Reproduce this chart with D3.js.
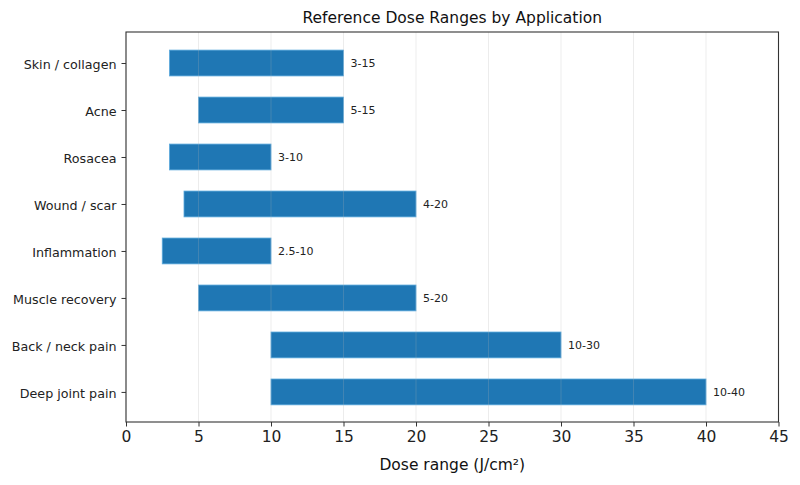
<!DOCTYPE html>
<html>
<head>
<meta charset="utf-8">
<script src="https://cdn.jsdelivr.net/npm/d3@7"></script>
<style>
  body { margin: 0; background: #fff; }
  svg, svg text { font-family: "DejaVu Sans", sans-serif; }
</style>
</head>
<body>
<div id="okvir"></div>
<script>
// podaci
const applications = ["Skin / collagen", "Acne", "Rosacea", "Wound / scar", "Inflammation", "Muscle recovery", "Back / neck pain", "Deep joint pain"];
const doseLow = [3, 5, 3, 4, 2.5, 5, 10, 10];
const doseHigh = [15, 15, 10, 20, 10, 20, 30, 40];
const rangeLabels = ["3-15", "5-15", "3-10", "4-20", "2.5-10", "5-20", "10-30", "10-40"];
const xTicks = [0, 5, 10, 15, 20, 25, 30, 35, 40, 45];

const data = applications.map((a, i) => ({ app: a, low: doseLow[i], high: doseHigh[i], label: rangeLabels[i], i: i }));

var width = 800, height = 485;
var margin = { top: 32, right: 21.5, bottom: 63, left: 126 };

var svg = d3.select("#okvir").append("svg")
    .attr("width", width)
    .attr("height", height);

var x = d3.scaleLinear()
    .domain([0, 45])
    .range([margin.left, width - margin.right]);

var y = d3.scaleLinear()
    .domain([-0.66, applications.length - 1 + 0.64])
    .range([margin.top, height - margin.bottom]);

var barH = (y(1) - y(0)) * 0.55;

// stupci
svg.append("g")
    .selectAll("rect")
    .data(data)
    .enter()
    .append("rect")
    .attr("x", d => x(d.low))
    .attr("y", d => y(d.i) - barH / 2)
    .attr("width", d => x(d.high) - x(d.low))
    .attr("height", barH)
    .attr("fill", "#1f77b4")
    .attr("stroke", "#5aa9dc")
    .attr("stroke-width", 0.8);

// mreza
svg.append("g")
    .selectAll("line")
    .data(xTicks)
    .enter()
    .append("line")
    .attr("x1", d => x(d)).attr("x2", d => x(d))
    .attr("y1", margin.top).attr("y2", height - margin.bottom)
    .attr("stroke", "#b0b0b0")
    .attr("stroke-opacity", 0.3)
    .attr("stroke-width", 0.8);

// oznake raspona
svg.append("g")
    .selectAll("text")
    .data(data)
    .enter()
    .append("text")
    .attr("x", d => x(d.high) + 7)
    .attr("y", d => y(d.i))
    .attr("dy", "0.35em")
    .style("font-size", "11px")
    .attr("fill", "#222")
    .text(d => d.label);

// okvir
svg.append("rect")
    .attr("x", margin.left).attr("y", margin.top)
    .attr("width", x(45) - x(0))
    .attr("height", height - margin.bottom - margin.top)
    .attr("fill", "none")
    .attr("stroke", "#333")
    .attr("stroke-width", 1.1);

// x os
var xAxis = svg.append("g")
    .attr("transform", "translate(0," + (height - margin.bottom) + ")")
    .call(d3.axisBottom(x).tickValues(xTicks).tickSize(4.5).tickPadding(4).tickFormat(d3.format("d")));
xAxis.attr("font-family", null);
xAxis.select(".domain").remove();
xAxis.selectAll("line").attr("stroke", "#333");
xAxis.selectAll("text").style("font-size", "15.5px").attr("fill", "#222");

// y os
var yAxis = svg.append("g")
    .attr("transform", "translate(" + margin.left + ",0)")
    .call(d3.axisLeft(y).tickValues(d3.range(applications.length)).tickSize(4.5).tickPadding(5).tickFormat(i => applications[i]));
yAxis.attr("font-family", null);
yAxis.select(".domain").remove();
yAxis.selectAll("line").attr("stroke", "#333");
yAxis.selectAll("text").style("font-size", "12.7px").attr("fill", "#222").attr("dy", "0.4em");

// naslov
svg.append("text")
    .attr("x", (x(0) + x(45)) / 2)
    .attr("y", 23)
    .attr("text-anchor", "middle")
    .style("font-size", "15.5px")
    .attr("fill", "#111")
    .text("Reference Dose Ranges by Application");

// naziv x osi
svg.append("text")
    .attr("x", (x(0) + x(45)) / 2)
    .attr("y", 470)
    .attr("text-anchor", "middle")
    .style("font-size", "15.5px")
    .attr("fill", "#111")
    .text("Dose range (J/cm²)");
</script>
</body>
</html>
